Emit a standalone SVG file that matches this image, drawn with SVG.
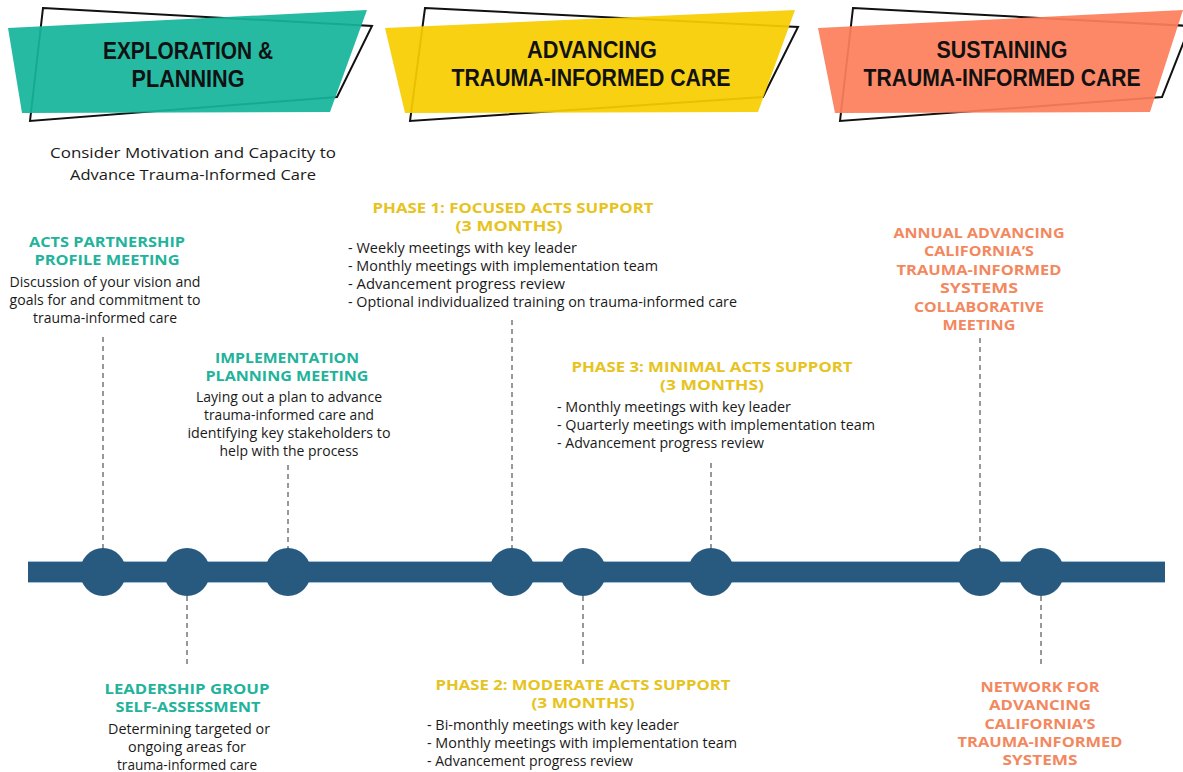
<svg xmlns="http://www.w3.org/2000/svg" width="1183" height="772" viewBox="0 0 1183 772">
<style>
.hd{font-family:"Liberation Sans","Open Sans",sans-serif;font-weight:700;font-size:24px;fill:#111;text-anchor:middle}
.outline{fill:none;stroke:#111;stroke-width:2}
.tl{font-family:"Open Sans","Liberation Sans",sans-serif;font-weight:700;font-size:15px;text-anchor:middle}
.teal{fill:#22b39b}.yel{fill:#e7c320}.sal{fill:#f3885f}
.body{font-family:"Open Sans","Liberation Sans",sans-serif;font-size:15px;fill:#1a1a1a}
.mid{text-anchor:middle}
.dot{fill:#285a80}
.conn line{stroke:#333;stroke-width:1;stroke-dasharray:5 4}
</style>

<g id="header-exploration">
  <polygon class="outline" points="43,8 372,26 337,97 30,121"/>
  <polygon points="8,28 367,10 330,112 22,113" fill="#17b59c" fill-opacity="0.93"/>
  <text class="hd" x="188" y="59" textLength="170" lengthAdjust="spacingAndGlyphs">EXPLORATION &amp;</text>
  <text class="hd" x="188" y="87" textLength="113" lengthAdjust="spacingAndGlyphs">PLANNING</text>
</g>
<g id="header-advancing">
  <polygon class="outline" points="425,8 798,27 763,97 410,121"/>
  <polygon points="385,28 795,10 758,112 405,113" fill="#f6cd00" fill-opacity="0.93"/>
  <text class="hd" x="592" y="58" textLength="130" lengthAdjust="spacingAndGlyphs">ADVANCING</text>
  <text class="hd" x="591" y="86" textLength="279" lengthAdjust="spacingAndGlyphs">TRAUMA-INFORMED CARE</text>
</g>
<g id="header-sustaining">
  <polygon class="outline" points="853,8 1190,26 1162,97 840,121"/>
  <polygon points="818,28 1183,10 1150,112 835,113" fill="#fd7f5b" fill-opacity="0.93"/>
  <text class="hd" x="1002" y="58" textLength="131" lengthAdjust="spacingAndGlyphs">SUSTAINING</text>
  <text class="hd" x="1002" y="86" textLength="277" lengthAdjust="spacingAndGlyphs">TRAUMA-INFORMED CARE</text>
</g>

<g id="consider">
  <text class="body mid" x="193" y="158" font-size="17" textLength="286" lengthAdjust="spacingAndGlyphs">Consider Motivation and Capacity to</text>
  <text class="body mid" x="193" y="180" font-size="17" textLength="246" lengthAdjust="spacingAndGlyphs">Advance Trauma-Informed Care</text>
</g>

<g id="timeline">
  <rect x="28" y="561" width="1137" height="22" fill="#9fc0d6"/>
  <rect x="28" y="562" width="1137" height="20" fill="#285a80"/>
</g>

<g class="conn" id="connectors">
  <line x1="103" y1="337" x2="103" y2="549"/>
  <line x1="187" y1="596" x2="187" y2="666"/>
  <line x1="288" y1="465" x2="288" y2="549"/>
  <line x1="512" y1="320" x2="512" y2="549"/>
  <line x1="583" y1="596" x2="583" y2="666"/>
  <line x1="711" y1="463" x2="711" y2="549"/>
  <line x1="980" y1="338" x2="980" y2="549"/>
  <line x1="1041" y1="596" x2="1041" y2="666"/>
</g>

<g id="node-acts-partnership">
  <ellipse class="dot" cx="103" cy="572" rx="23" ry="24"/>
  <text class="tl teal" x="107" y="247" textLength="156" lengthAdjust="spacingAndGlyphs">ACTS PARTNERSHIP</text>
  <text class="tl teal" x="107" y="265" textLength="145" lengthAdjust="spacingAndGlyphs">PROFILE MEETING</text>
  <text class="body mid" x="105" y="287" textLength="191" lengthAdjust="spacingAndGlyphs">Discussion of your vision and</text>
  <text class="body mid" x="105" y="305" textLength="191" lengthAdjust="spacingAndGlyphs">goals for and commitment to</text>
  <text class="body mid" x="105" y="323" textLength="144" lengthAdjust="spacingAndGlyphs">trauma-informed care</text>
</g>

<g id="node-leadership">
  <ellipse class="dot" cx="187" cy="572" rx="23" ry="24"/>
  <text class="tl teal" x="187" y="694" textLength="165" lengthAdjust="spacingAndGlyphs">LEADERSHIP GROUP</text>
  <text class="tl teal" x="188" y="712" textLength="145" lengthAdjust="spacingAndGlyphs">SELF-ASSESSMENT</text>
  <text class="body mid" x="189" y="734" textLength="162" lengthAdjust="spacingAndGlyphs">Determining targeted or</text>
  <text class="body mid" x="187" y="752" textLength="118" lengthAdjust="spacingAndGlyphs">ongoing areas for</text>
  <text class="body mid" x="187" y="770" textLength="140" lengthAdjust="spacingAndGlyphs">trauma-informed care</text>
</g>

<g id="node-implementation">
  <ellipse class="dot" cx="288" cy="572" rx="23" ry="24"/>
  <text class="tl teal" x="287" y="363" textLength="144" lengthAdjust="spacingAndGlyphs">IMPLEMENTATION</text>
  <text class="tl teal" x="287" y="381" textLength="163" lengthAdjust="spacingAndGlyphs">PLANNING MEETING</text>
  <text class="body mid" x="289" y="402" textLength="186" lengthAdjust="spacingAndGlyphs">Laying out a plan to advance</text>
  <text class="body mid" x="289" y="420" textLength="170" lengthAdjust="spacingAndGlyphs">trauma-informed care and</text>
  <text class="body mid" x="289" y="438" textLength="203" lengthAdjust="spacingAndGlyphs">identifying key stakeholders to</text>
  <text class="body mid" x="289" y="456" textLength="139" lengthAdjust="spacingAndGlyphs">help with the process</text>
</g>

<g id="node-phase1">
  <ellipse class="dot" cx="512" cy="572" rx="23" ry="24"/>
  <text class="tl yel" x="513" y="213" textLength="281" lengthAdjust="spacingAndGlyphs">PHASE 1: FOCUSED ACTS SUPPORT</text>
  <text class="tl yel" x="509" y="231" textLength="107" lengthAdjust="spacingAndGlyphs">(3 MONTHS)</text>
  <text class="body" x="348" y="253" textLength="229" lengthAdjust="spacingAndGlyphs">- Weekly meetings with key leader</text>
  <text class="body" x="348" y="271" textLength="310" lengthAdjust="spacingAndGlyphs">- Monthly meetings with implementation team</text>
  <text class="body" x="348" y="289" textLength="217" lengthAdjust="spacingAndGlyphs">- Advancement progress review</text>
  <text class="body" x="348" y="307" textLength="389" lengthAdjust="spacingAndGlyphs">- Optional individualized training on trauma-informed care</text>
</g>

<g id="node-phase2">
  <ellipse class="dot" cx="583" cy="572" rx="23" ry="24"/>
  <text class="tl yel" x="583" y="690" textLength="295" lengthAdjust="spacingAndGlyphs">PHASE 2: MODERATE ACTS SUPPORT</text>
  <text class="tl yel" x="583" y="708" textLength="103" lengthAdjust="spacingAndGlyphs">(3 MONTHS)</text>
  <text class="body" x="427" y="730" textLength="252" lengthAdjust="spacingAndGlyphs">- Bi-monthly meetings with key leader</text>
  <text class="body" x="427" y="748" textLength="310" lengthAdjust="spacingAndGlyphs">- Monthly meetings with implementation team</text>
  <text class="body" x="427" y="766" textLength="206" lengthAdjust="spacingAndGlyphs">- Advancement progress review</text>
</g>

<g id="node-phase3">
  <ellipse class="dot" cx="711" cy="572" rx="23" ry="24"/>
  <text class="tl yel" x="712" y="372" textLength="281" lengthAdjust="spacingAndGlyphs">PHASE 3: MINIMAL ACTS SUPPORT</text>
  <text class="tl yel" x="712" y="390" textLength="104" lengthAdjust="spacingAndGlyphs">(3 MONTHS)</text>
  <text class="body" x="557" y="412" textLength="234" lengthAdjust="spacingAndGlyphs">- Monthly meetings with key leader</text>
  <text class="body" x="557" y="430" textLength="318" lengthAdjust="spacingAndGlyphs">- Quarterly meetings with implementation team</text>
  <text class="body" x="557" y="448" textLength="207" lengthAdjust="spacingAndGlyphs">- Advancement progress review</text>
</g>

<g id="node-annual">
  <ellipse class="dot" cx="980" cy="572" rx="23" ry="24"/>
  <text class="tl sal" x="979" y="238" textLength="171" lengthAdjust="spacingAndGlyphs">ANNUAL ADVANCING</text>
  <text class="tl sal" x="979" y="256" textLength="110" lengthAdjust="spacingAndGlyphs">CALIFORNIA’S</text>
  <text class="tl sal" x="979" y="275" textLength="165" lengthAdjust="spacingAndGlyphs">TRAUMA-INFORMED</text>
  <text class="tl sal" x="979" y="293" textLength="78" lengthAdjust="spacingAndGlyphs">SYSTEMS</text>
  <text class="tl sal" x="979" y="312" textLength="130" lengthAdjust="spacingAndGlyphs">COLLABORATIVE</text>
  <text class="tl sal" x="979" y="330" textLength="73" lengthAdjust="spacingAndGlyphs">MEETING</text>
</g>

<g id="node-network">
  <ellipse class="dot" cx="1041" cy="572" rx="23" ry="24"/>
  <text class="tl sal" x="1040" y="692" textLength="119" lengthAdjust="spacingAndGlyphs">NETWORK FOR</text>
  <text class="tl sal" x="1040" y="710" textLength="102" lengthAdjust="spacingAndGlyphs">ADVANCING</text>
  <text class="tl sal" x="1040" y="729" textLength="111" lengthAdjust="spacingAndGlyphs">CALIFORNIA’S</text>
  <text class="tl sal" x="1040" y="747" textLength="165" lengthAdjust="spacingAndGlyphs">TRAUMA-INFORMED</text>
  <text class="tl sal" x="1040" y="765" textLength="75" lengthAdjust="spacingAndGlyphs">SYSTEMS</text>
</g>
</svg>
